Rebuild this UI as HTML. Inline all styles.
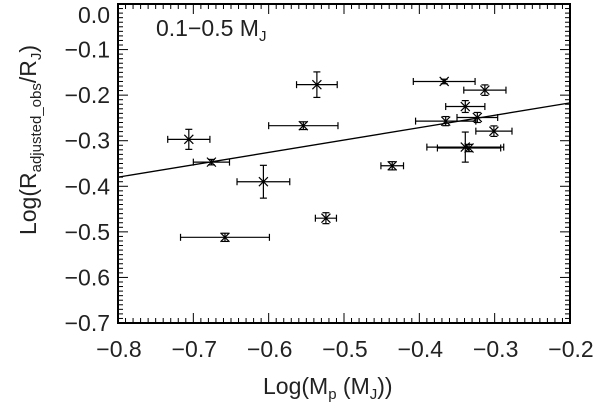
<!DOCTYPE html>
<html><head><meta charset="utf-8">
<style>
html,body{margin:0;padding:0;background:#fff;}
svg{display:block;font-family:"Liberation Sans",sans-serif;}
</style></head>
<body>
<svg id="chart" width="600" height="405" viewBox="0 0 600 405" xmlns="http://www.w3.org/2000/svg">
<g id="plot"></g>
</svg>
<script>
const xVals=[-0.706,-0.676,-0.658,-0.607,-0.554,-0.536,-0.524,-0.436,-0.367,-0.313,-0.339,-0.365,-0.323,-0.301,-0.339,-0.334];
const yVals=[-0.297,-0.347,-0.512,-0.390,-0.267,-0.177,-0.470,-0.355,-0.170,-0.189,-0.225,-0.257,-0.249,-0.279,-0.314,-0.316];
const xErrs=[0.028,0.024,0.059,0.035,0.046,0.027,0.014,0.015,0.041,0.028,0.026,0.040,0.027,0.024,0.051,0.042];
const yErrs=[0.022,0.006,0.009,0.036,0.0085,0.028,0.012,0.009,0.005,0.0115,0.013,0.01,0.011,0.0115,0.033,0.008];
const fitX=[-0.8,-0.2];
const fitY=[-0.380,-0.217];
const xTicks=[-0.8,-0.7,-0.6,-0.5,-0.4,-0.3,-0.2];
const yTicks=[0.0,-0.1,-0.2,-0.3,-0.4,-0.5,-0.6,-0.7];

const L=118,R=570,T=4,B=323;
const xs=v=>L+(v+0.8)/0.6*(R-L);
const ys=v=>T+(0-v)/0.7*(B-T);
const NS="http://www.w3.org/2000/svg";
const g=document.getElementById('plot');
function mk(tag,attrs,parent){const e=document.createElementNS(NS,tag);for(const k in attrs)e.setAttribute(k,attrs[k]);(parent||g).appendChild(e);return e;}
function fmt(v){return (v<0?'\u2212':'')+Math.abs(v).toFixed(1);}

let fr=mk('rect',{x:L,y:T,width:R-L,height:B-T,fill:'none',stroke:'#000','stroke-width':2});



for(let i=0;i<=60;i++){
  const v=-0.8+i*0.01, x=xs(v), len=(i%10===0)?10:5;
  let t1=mk('line',{x1:x,y1:B,x2:x,y2:B-len,stroke:'#000','stroke-width':1});
  
  
  let t2=mk('line',{x1:x,y1:T,x2:x,y2:T+len,stroke:'#000','stroke-width':1});
  
  
}
for(let i=0;i<=70;i++){
  const v=-i*0.01, y=ys(v), len=(i%10===0)?10:5;
  let t1=mk('line',{x1:L,y1:y,x2:L+len,y2:y,stroke:'#000','stroke-width':1});
  
  
  let t2=mk('line',{x1:R,y1:y,x2:R-len,y2:y,stroke:'#000','stroke-width':1});
  
  
}
xTicks.forEach(v=>{
  let t=mk('text',{x:xs(v)+1,y:357,'text-anchor':'middle','font-size':23,fill:'#222'});
  t.textContent=fmt(v);
  
  
});
yTicks.forEach(v=>{
  let yy=Math.max(ys(v)+8,23);
  let t=mk('text',{x:110,y:yy,'text-anchor':'end','font-size':23,fill:'#222'});
  t.textContent=fmt(v);
  
  
});

let fl=mk('line',{x1:xs(fitX[0]),y1:ys(fitY[0]),x2:xs(fitX[1]),y2:ys(fitY[1]),stroke:'#000','stroke-width':1.3});



xVals.forEach((xv,i)=>{
  const cx=xs(xv), cy=ys(yVals[i]);
  const x0=xs(xv-xErrs[i]), x1=xs(xv+xErrs[i]);
  const y0=ys(yVals[i]+yErrs[i]), y1=ys(yVals[i]-yErrs[i]);
  const pg=mk('g',{stroke:'#000','stroke-width':1.2,fill:'none'});
  
  
  mk('line',{x1:x0,y1:cy,x2:x1,y2:cy},pg);
  mk('line',{x1:x0,y1:cy-3.5,x2:x0,y2:cy+3.5},pg);
  mk('line',{x1:x1,y1:cy-3.5,x2:x1,y2:cy+3.5},pg);
  mk('line',{x1:cx,y1:y0,x2:cx,y2:y1},pg);
  mk('line',{x1:cx-3.5,y1:y0,x2:cx+3.5,y2:y0},pg);
  mk('line',{x1:cx-3.5,y1:y1,x2:cx+3.5,y2:y1},pg);
  mk('line',{x1:cx-4.5,y1:cy-4.5,x2:cx+4.5,y2:cy+4.5},pg);
  mk('line',{x1:cx-4.5,y1:cy+4.5,x2:cx+4.5,y2:cy-4.5},pg);
});

let an=mk('text',{x:156,y:36,'font-size':23,fill:'#222'});
an.innerHTML='0.1\u22120.5 M<tspan font-size="15" dy="5">J</tspan>';



let xt=mk('text',{x:263,y:394,'font-size':23,fill:'#222'});
xt.innerHTML='Log(M<tspan font-size="15" dy="5">p</tspan><tspan dy="-5"> (M</tspan><tspan font-size="15" dy="5">J</tspan><tspan dy="-5">))</tspan>';


let yt=mk('text',{x:0,y:0,'text-anchor':'middle','font-size':23,fill:'#222',transform:'translate(36,140) rotate(-90)'});
yt.innerHTML='Log(R<tspan font-size="15" dy="5">adjusted_obs</tspan><tspan dy="-5">/R</tspan><tspan font-size="15" dy="5">J</tspan><tspan dy="-5">)</tspan>';


</script>
</body></html>
